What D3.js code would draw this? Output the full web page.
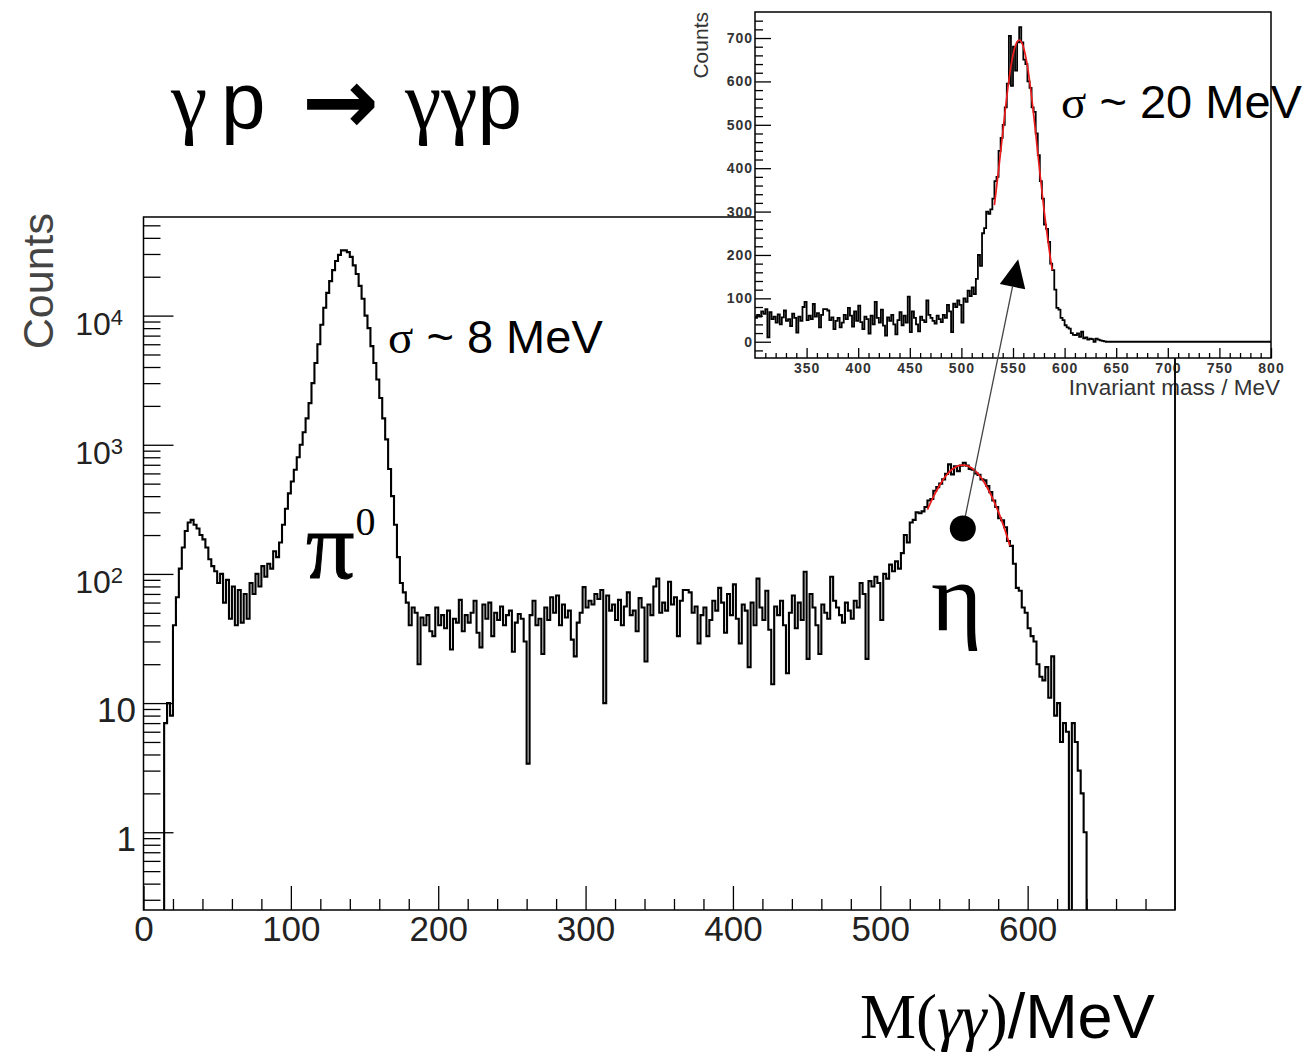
<!DOCTYPE html>
<html><head><meta charset="utf-8">
<script src="https://cdn.jsdelivr.net/npm/d3@7"></script>
<style>body{margin:0;background:#fff}svg{display:block}</style>
</head><body>
<svg id="c" width="1315" height="1055"></svg>
<script>
// ---------------- DATA ----------------
const binLow = 0;      // MeV, left edge of first bin
const binWidth = 2;    // MeV
// counts per 2 MeV bin, 0..700 MeV
const counts = [
  0,0,0,0,0,0,0,7,10,8,
  40,66,110,160,215,250,262,240,225,200,
  185,160,130,115,105,85,100,60,90,45,
  80,40,75,42,70,45,85,70,100,80,
  115,95,120,110,150,135,175,240,320,420,
  520,640,800,1000,1250,1600,2100,3000,4300,6000,
  8500,11500,15000,18500,22500,26500,29500,32000,32000,31000,
  28500,24500,21000,17000,13500,10000,8000,5800,4300,3200,
  2300,1600,1100,650,400,240,135,85,72,60,
  40,55,50,20,46,40,48,36,33,55,
  40,48,38,52,26,45,42,63,36,48,
  42,50,62,35,27,58,45,60,33,50,
  44,56,40,48,52,25,42,49,45,30,
  3.4,48,62,40,45,24,55,44,66,50,
  68,40,58,46,52,31,23,42,50,79,
  55,62,58,70,64,75,10,68,52,58,
  44,63,40,56,72,48,52,36,65,55,
  21,58,48,80,92,50,60,52,87,58,
  66,33,62,75,75,72,50,56,29,48,
  55,33,44,62,52,78,60,35,70,48,
  83,45,29,58,52,19,60,40,92,55,
  44,74,37,14,56,48,62,40,17,50,
  68,38,60,44,104,22,70,55,40,24,
  58,50,45,95,62,55,48,42,60,52,
  45,62,55,85,70,22,88,80,95,85,
  44,100,92,118,105,125,110,145,200,175,
  250,262,300,295,305,330,370,380,440,470,
  500,540,595,705,590,680,625,690,725,690,
  650,640,600,585,540,530,480,430,370,330,
  270,260,230,180,165,120,78,74,55,50,
  38,33,30,20,16,15,19,11,23,8,
  10,5,7,6,0,7,5,3,2,1,
  0,0,0,0,0,0,0,0,0,0,
  0,0,0,0,0,0,0,0,0,0,
  0,0,0,0,0,0,0,0,0,0
];
// Gaussian fit to the eta peak
const fitMass   = [532,536,540,544,548,552,556,560,564,568,572,576,580,584,588];
const fitCounts = [315,395,480,565,635,680,695,680,635,565,480,390,305,230,165];

// main axis ticks / labels
const xMajorTicks = [0,100,200,300,400,500,600];
const yMajorTicks = [1,10,100,1000,10000];
const yTickBase   = ["1","10","10","10","10"];
const yTickExp    = ["","","2","3","4"];
// inset ticks
const insetXTicks = [350,400,450,500,550,600,650,700,750,800];
const insetYTicks = [0,100,200,300,400,500,600,700];

// annotation anchors (data units)
const etaMarker = {mass:556, counts:225};
const insetArrowTip = {mass:555, counts:190};

// ---------------- DRAW ----------------
const SANS = "'Liberation Sans', Arial, Helvetica, sans-serif";
const SERIF = "'Liberation Serif', 'Times New Roman', serif";
const svg = d3.select("#c");

const F = {l:143.5, r:1175, t:217, b:910};
const x = d3.scaleLinear().domain([0,700]).range([F.l, F.r]);
const y = d3.scaleLog().domain([0.25, 58000]).range([F.b, F.t]);

const defs = svg.append("defs");
defs.append("clipPath").attr("id","mainclip").append("rect")
  .attr("x",F.l).attr("y",F.t).attr("width",F.r-F.l).attr("height",F.b-F.t);

const pts = counts.map((c,i)=>[binLow+i*binWidth, c]);
pts.push([binLow+counts.length*binWidth, counts[counts.length-1]]);

const mainLine = d3.line()
  .x(d=>x(d[0]))
  .y(d=>d[1]>0 ? y(d[1]) : F.b+2)
  .curve(d3.curveStepAfter);

svg.append("g").attr("clip-path","url(#mainclip)")
  .append("path").attr("d",mainLine(pts))
  .attr("fill","none").attr("stroke","#000").attr("stroke-width",2.1);

// fit in main
const fitPts = fitMass.map((m,i)=>[m,fitCounts[i]]);
svg.append("path").attr("d", d3.line().x(d=>x(d[0])).y(d=>y(d[1])).curve(d3.curveMonotoneX)(fitPts))
  .attr("fill","none").attr("stroke","#ee1c1c").attr("stroke-width",1.8);

// frame
svg.append("rect").attr("x",F.l).attr("y",F.t).attr("width",F.r-F.l).attr("height",F.b-F.t)
  .attr("fill","none").attr("stroke","#000").attr("stroke-width",1.5);

function styleAxis(g){
  g.select(".domain").remove();
  g.selectAll(".tick line").attr("stroke","#000").attr("stroke-width",1.4);
}
// x axis
const xMinor = d3.range(20,700,20).filter(v=>v%100!==0);
svg.append("g").attr("transform",`translate(0,${F.b})`)
  .call(d3.axisBottom(x).tickValues(xMinor).tickSize(-11).tickSizeOuter(0).tickFormat(""))
  .call(styleAxis);
const gx = svg.append("g").attr("transform",`translate(0,${F.b})`)
  .call(d3.axisBottom(x).tickValues(xMajorTicks).tickSize(-24).tickSizeOuter(0).tickPadding(6).tickFormat(d=>d))
  .call(styleAxis);
gx.selectAll("text").attr("font-size",35).attr("font-family",SANS).attr("fill","#222");

// y axis
const yMinor = [];
[0.1,1,10,100,1000,10000].forEach(dec=>{ for(let k=2;k<=9;k++){ const v=k*dec; if(v>=0.25 && v<=58000) yMinor.push(v);} });
svg.append("g").attr("transform",`translate(${F.l},0)`)
  .call(d3.axisLeft(y).tickValues(yMinor).tickSize(-17).tickSizeOuter(0).tickFormat(""))
  .call(styleAxis);
svg.append("g").attr("transform",`translate(${F.l},0)`)
  .call(d3.axisLeft(y).tickValues(yMajorTicks).tickSize(-30).tickSizeOuter(0).tickFormat(""))
  .call(styleAxis);
const ylab = svg.append("g").attr("font-family",SANS).attr("fill","#222");
yMajorTicks.forEach((v,i)=>{
  const t = ylab.append("text").attr("text-anchor","end")
    .attr("x", yTickExp[i] ? 123 : 136).attr("y", y(v)+19);
  t.append("tspan").attr("font-size", yTickExp[i] ? 32 : 35).text(yTickBase[i]);
  if (yTickExp[i]) t.append("tspan").attr("font-size",22).attr("dy",-10).text(yTickExp[i]);
});
svg.append("text").attr("transform","translate(53,213) rotate(-90)")
  .attr("text-anchor","end").attr("font-family",SANS).attr("font-size",43).attr("fill","#444")
  .text("Counts");

// ---------------- INSET ----------------
const I = {l:755, r:1271, t:12, b:358};
const xi = d3.scaleLinear().domain([300,800]).range([I.l, I.r]);
const yi = d3.scaleLinear().domain([-37.5,760]).range([I.b, I.t]);
svg.append("rect").attr("x",I.l).attr("y",I.t).attr("width",I.r-I.l).attr("height",I.b-I.t).attr("fill","#fff");
defs.append("clipPath").attr("id","insetclip").append("rect")
  .attr("x",I.l).attr("y",I.t).attr("width",I.r-I.l).attr("height",I.b-I.t);
// inset shows 300..800 MeV; beyond the last bin the histogram is empty
const ipts = pts.filter(d=>d[0]>=300).concat([[xi.domain()[1], 0]]);
svg.append("g").attr("clip-path","url(#insetclip)")
  .append("path").attr("d", d3.line().x(d=>xi(d[0])).y(d=>yi(d[1])).curve(d3.curveStepAfter)(ipts))
  .attr("fill","none").attr("stroke","#000").attr("stroke-width",1.8);
svg.append("path").attr("d", d3.line().x(d=>xi(d[0])).y(d=>yi(d[1])).curve(d3.curveMonotoneX)(fitPts))
  .attr("fill","none").attr("stroke","#ee1c1c").attr("stroke-width",1.7);

const ixMinor = d3.range(310,800,10).filter(v=>v%50!==0);
svg.append("g").attr("transform",`translate(0,${I.b})`)
  .call(d3.axisBottom(xi).tickValues(ixMinor).tickSize(-5).tickSizeOuter(0).tickFormat(""))
  .call(styleAxis);
const gix = svg.append("g").attr("transform",`translate(0,${I.b})`)
  .call(d3.axisBottom(xi).tickValues(insetXTicks).tickSize(-10).tickSizeOuter(0).tickPadding(5).tickFormat(d=>d))
  .call(styleAxis);
gix.selectAll("text").attr("font-size",14).attr("font-family",SANS).attr("font-weight","bold")
  .attr("letter-spacing",1).attr("fill","#333");
const iyMinor = d3.range(-20,760,20).filter(v=>v%100!==0);
svg.append("g").attr("transform",`translate(${I.l},0)`)
  .call(d3.axisLeft(yi).tickValues(iyMinor).tickSize(-8).tickSizeOuter(0).tickFormat(""))
  .call(styleAxis);
const giy = svg.append("g").attr("transform",`translate(${I.l},0)`)
  .call(d3.axisLeft(yi).tickValues(insetYTicks).tickSize(-16).tickSizeOuter(0).tickPadding(2).tickFormat(d=>d))
  .call(styleAxis);
giy.selectAll("text").attr("font-size",14).attr("font-family",SANS).attr("font-weight","bold")
  .attr("letter-spacing",1).attr("fill","#333");
svg.selectAll(".tick line").attr("stroke-width",1.3);
svg.append("rect").attr("x",I.l).attr("y",I.t).attr("width",I.r-I.l).attr("height",I.b-I.t)
  .attr("fill","none").attr("stroke","#000").attr("stroke-width",1.5);
svg.append("text").attr("x",1280).attr("y",395).attr("text-anchor","end")
  .attr("font-family",SANS).attr("font-size",22.5).attr("fill","#333").text("Invariant mass / MeV");
svg.append("text").attr("transform","translate(708,12) rotate(-90)").attr("text-anchor","end")
  .attr("font-family",SANS).attr("font-size",21).attr("fill","#333").text("Counts");
// main frame right edge visible below inset
svg.append("line").attr("x1",F.r).attr("x2",F.r).attr("y1",I.b).attr("y2",F.b)
  .attr("stroke","#000").attr("stroke-width",1.5);

// ---------------- ANNOTATIONS ----------------
const p0 = [x(etaMarker.mass), y(etaMarker.counts)];
const p1 = [xi(insetArrowTip.mass), yi(insetArrowTip.counts)];
const dx = p1[0]-p0[0], dy = p1[1]-p0[1], L = Math.hypot(dx,dy);
const ux = dx/L, uy = dy/L, headL = 28, headW = 13;
const base = [p1[0]-ux*headL, p1[1]-uy*headL];
svg.append("line").attr("x1",p0[0]).attr("y1",p0[1]).attr("x2",base[0]).attr("y2",base[1])
  .attr("stroke","#444").attr("stroke-width",1.3);
svg.append("path").attr("d",`M${p1[0]},${p1[1]}L${base[0]-uy*headW},${base[1]+ux*headW}L${base[0]+uy*headW},${base[1]-ux*headW}Z`)
  .attr("fill","#000");
svg.append("circle").attr("cx",p0[0]).attr("cy",p0[1]).attr("r",13).attr("fill","#000");

// title
const title = svg.append("g").attr("fill","#000");
title.append("text").attr("x",171).attr("y",128).attr("font-family",SERIF).attr("font-size",82).text("γ");
title.append("text").attr("x",221).attr("y",128).attr("font-family",SANS).attr("font-size",80).text("p");
title.append("text").attr("x",302).attr("y",133).attr("font-family","'DejaVu Sans', sans-serif").attr("font-weight","bold")
  .attr("font-size",92).text("→");
const t2 = title.append("text").attr("x",405).attr("y",128);
t2.append("tspan").attr("font-family",SERIF).attr("font-size",82).text("γγ");
t2.append("tspan").attr("font-family",SANS).attr("font-size",80).text("p");

// sigma labels
function sigmaLabel(xp, yp, rest){
  const t = svg.append("text").attr("x",xp).attr("y",yp).attr("font-size",47).attr("fill","#000");
  t.append("tspan").attr("font-family",SERIF).text("σ");
  t.append("tspan").attr("font-family",SANS).text(rest);
}
sigmaLabel(388,353," ~ 8 MeV");
sigmaLabel(1061,118," ~ 20 MeV");

// particle labels
const pi = svg.append("text").attr("x",306).attr("y",578).attr("font-family",SERIF).attr("fill","#000");
pi.append("tspan").attr("font-size",96).attr("stroke","#000").attr("stroke-width",1).text("π");
pi.append("tspan").attr("font-size",40).attr("dy",-43).attr("dx",1).text("0");
svg.append("text").attr("x",931).attr("y",630).attr("font-family",SERIF).attr("font-size",98).attr("fill","#000").text("η");

// x axis title
const xt = svg.append("text").attr("x",860).attr("y",1038).attr("font-size",63).attr("fill","#000");
xt.append("tspan").attr("font-family",SERIF).text("M(");
xt.append("tspan").attr("font-family",SERIF).attr("font-style","italic").text("γγ");
xt.append("tspan").attr("font-family",SERIF).text(")");
xt.append("tspan").attr("font-family",SANS).text("/MeV");
</script>
</body></html>
